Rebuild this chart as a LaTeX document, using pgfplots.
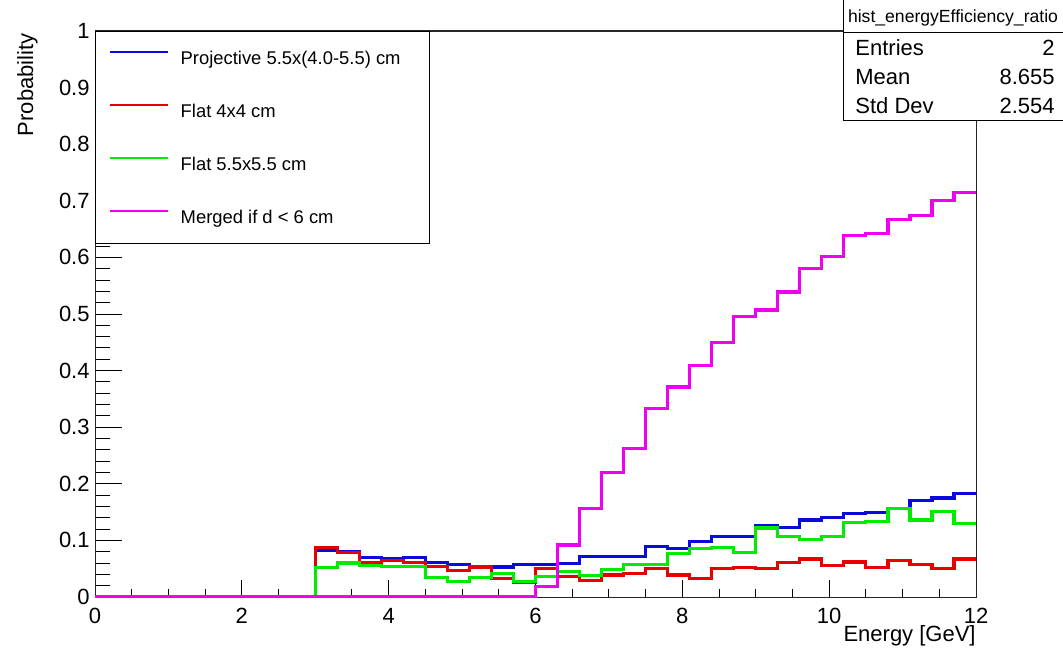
\documentclass[border=0pt]{standalone}
\usepackage{pgfplots}
\pgfplotsset{compat=1.18}
\usepackage{fontspec}
\setmainfont{Liberation Sans}

\definecolor{hblue}{RGB}{10,10,220}
\definecolor{hred}{RGB}{230,0,0}
\definecolor{hgreen}{RGB}{0,235,0}
\definecolor{hmagenta}{RGB}{240,0,240}

% Bin contents, lower bin edges (bin width 0.3 GeV); last row closes the last bin
\pgfplotstableread{
x     y
0     0
3.0   0.083
3.3   0.081
3.6   0.070
3.9   0.068
4.2   0.070
4.5   0.061
4.8   0.058
5.1   0.053
5.4   0.053
5.7   0.057
6.0   0.057
6.3   0.059
6.6   0.072
6.9   0.072
7.2   0.071
7.5   0.089
7.8   0.086
8.1   0.098
8.4   0.107
8.7   0.107
9.0   0.127
9.3   0.123
9.6   0.136
9.9   0.140
10.2  0.147
10.5  0.149
10.8  0.157
11.1  0.170
11.4  0.175
11.7  0.183
12.0  0.183
}\projective

\pgfplotstableread{
x     y
0     0
3.0   0.087
3.3   0.079
3.6   0.060
3.9   0.065
4.2   0.061
4.5   0.054
4.8   0.047
5.1   0.053
5.4   0.032
5.7   0.026
6.0   0.050
6.3   0.036
6.6   0.029
6.9   0.039
7.2   0.042
7.5   0.050
7.8   0.039
8.1   0.032
8.4   0.050
8.7   0.052
9.0   0.050
9.3   0.061
9.6   0.067
9.9   0.055
10.2  0.062
10.5  0.052
10.8  0.064
11.1  0.058
11.4  0.051
11.7  0.067
12.0  0.067
}\flatsmall

\pgfplotstableread{
x     y
0     0
3.0   0.052
3.3   0.060
3.6   0.055
3.9   0.054
4.2   0.054
4.5   0.035
4.8   0.027
5.1   0.034
5.4   0.041
5.7   0.027
6.0   0.036
6.3   0.045
6.6   0.038
6.9   0.049
7.2   0.057
7.5   0.057
7.8   0.077
8.1   0.085
8.4   0.088
8.7   0.079
9.0   0.122
9.3   0.107
9.6   0.102
9.9   0.107
10.2  0.132
10.5  0.133
10.8  0.157
11.1  0.136
11.4  0.151
11.7  0.130
12.0  0.130
}\flatlarge

\pgfplotstableread{
x     y
0     0
6.0   0.018
6.3   0.092
6.6   0.157
6.9   0.220
7.2   0.263
7.5   0.333
7.8   0.371
8.1   0.409
8.4   0.449
8.7   0.495
9.0   0.507
9.3   0.539
9.6   0.581
9.9   0.601
10.2  0.638
10.5  0.642
10.8  0.667
11.1  0.674
11.4  0.700
11.7  0.714
12.0  0.714
}\merged

\begin{document}
\begin{tikzpicture}
\path[use as bounding box] (0,0) rectangle (531.5pt,324.5pt);

\pgfplotsset{
  histframe/.style={
    scale only axis, width=440.5pt, height=283pt,
    at={(47.5pt,26pt)}, anchor=south west,
    xmin=0, xmax=12, ymin=0, ymax=1,
    tick align=inside,
    axis line style={line width=0.5pt, black!85},
    tick style={line width=0.5pt, black},
    /pgf/number format/assume math mode=true,
    ticklabel style={font=\fontsize{11}{13}\selectfont},
  },
}

% vertical axis with its ticks
\begin{axis}[histframe,
  xtick=\empty,
  ytick={0,0.1,0.2,0.3,0.4,0.5,0.6,0.7,0.8,0.9,1},
  yticklabels={0,0.1,0.2,0.3,0.4,0.5,0.6,0.7,0.8,0.9,1},
  ytick pos=left, minor y tick num=4,
  major tick length=13.5pt, minor tick length=7.5pt,
  yticklabel style={inner sep=0pt, xshift=-2.5pt},
]
\end{axis}

% histograms, horizontal axis and legend
\begin{axis}[histframe,
  ytick=\empty,
  xtick={0,2,4,6,8,10,12},
  xticklabels={0,2,4,6,8,10,12},
  xtick pos=bottom, minor x tick num=3,
  major tick length=8.5pt, minor tick length=4.2pt,
  xticklabel style={inner sep=0pt, yshift=-5.5pt},
  legend image code/.code={\draw[#1, line width=1.1pt] (0pt,3.2pt) -- (29pt,3.2pt);},
  legend cell align=left,
  legend style={at={(0,1)}, anchor=north west,
    draw=black, line width=0.5pt, fill=white,
    font=\fontsize{9.2}{11}\selectfont,
    nodes={inner sep=0pt, text height=8.7pt, text depth=1.8pt},
    row sep=16pt, column sep=6pt, inner xsep=6.5pt, inner ysep=8pt},
]
\addplot[const plot, hblue, line width=1.6pt] table[x=x, y=y] {\projective};
\addlegendentry{\makebox[118pt][l]{Projective 5.5x(4.0-5.5) cm}}
\addplot[const plot, hred, line width=1.6pt] table[x=x, y=y] {\flatsmall};
\addlegendentry{Flat 4x4 cm}
\addplot[const plot, hgreen, line width=1.6pt] table[x=x, y=y] {\flatlarge};
\addlegendentry{Flat 5.5x5.5 cm}
\addplot[const plot, hmagenta, line width=1.6pt] table[x=x, y=y] {\merged};
\addlegendentry{Merged if d < 6 cm}
\end{axis}

% axis titles
\node[rotate=90, anchor=base east, inner sep=0pt, font=\fontsize{11}{13}\selectfont]
  at (16.5pt,308pt) {Probability};
\node[anchor=base east, inner sep=0pt, font=\fontsize{11}{13}\selectfont]
  at (488pt,3.7pt) {Energy [GeV]};

% statistics box
\draw[line width=0.5pt, fill=white] (421.5pt,264pt) rectangle (531.5pt,324.5pt);
\draw[line width=0.5pt] (421.5pt,308pt) -- (531.5pt,308pt);
\node[anchor=base, inner sep=0pt, font=\fontsize{8.8}{10}\selectfont]
  at (476.5pt,313pt) {hist\_energyEfficiency\_ratio};
\begin{scope}[every node/.style={inner sep=0pt, font=\fontsize{11}{13}\selectfont}]
\node[anchor=base west] at (427.5pt,296.5pt) {Entries};
\node[anchor=base east] at (527.5pt,296.5pt) {2};
\node[anchor=base west] at (427.5pt,282pt) {Mean};
\node[anchor=base east] at (527.5pt,282pt) {8.655};
\node[anchor=base west] at (427.5pt,267.5pt) {Std Dev};
\node[anchor=base east] at (527.5pt,267.5pt) {2.554};
\end{scope}
\end{tikzpicture}
\end{document}
